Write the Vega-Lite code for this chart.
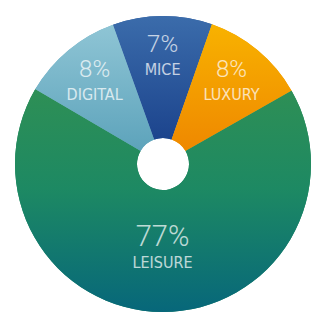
{
  "$schema": "https://vega.github.io/schema/vega-lite/v6.json",
  "width": 300,
  "height": 302,
  "padding": {"left": 13, "top": 13, "right": 0, "bottom": 0},
  "autosize": "none",
  "background": "white",
  "view": {"stroke": null},
  "data": {"values": [
    {"cat": "MICE", "label": "MICE", "pct": "7%", "v": 39},
    {"cat": "LUXURY", "label": "LUXURY", "pct": "8%", "v": 41},
    {"cat": "LEISURE", "label": "LEISURE", "pct": "77%", "v": 240},
    {"cat": "DIGITAL", "label": "DIGITAL", "pct": "8%", "v": 40}
  ]},
  "encoding": {
    "theta": {"field": "v", "type": "quantitative", "stack": true, "scale": {"range": [-0.344, 5.939]}},
    "order": {"field": "cat", "sort": "descending"}
  },
  "layer": [
    {
      "data": {"values": [{"k": 1}]},
      "mark": {"type": "point", "shape": "circle", "filled": true, "color": "#bdbdbd", "opacity": 0.5, "size": 74500, "xOffset": -1, "yOffset": 1},
      "encoding": {"theta": null, "order": null}
    },
    {
      "data": {"values": [{"k": 1}]},
      "mark": {"type": "point", "shape": "circle", "filled": true, "color": "white", "opacity": 1, "size": 72000},
      "encoding": {"theta": null, "order": null}
    },
    {
      "mark": {"type": "arc", "radius": 148, "innerRadius": 26},
      "encoding": {
        "color": {"field": "cat", "type": "nominal", "legend": null,
          "scale": {"domain": ["DIGITAL", "LEISURE", "LUXURY", "MICE"], "range": ["#74b3c8", "#1c8763", "#f39d00", "#2c5b9c"]}}
      }
    },
    {
      "mark": {"type": "arc", "radius": 148, "innerRadius": 26,
        "color": {"gradient": "linear", "x1": 0, "y1": 0, "x2": 0, "y2": 1, "stops": [{"offset": 0, "color": "#8fc5d5"}, {"offset": 1, "color": "#5da3bb"}]}},
      "encoding": {"opacity": {"condition": {"test": "datum.cat == 'DIGITAL'", "value": 1}, "value": 0}}
    },
    {
      "mark": {"type": "arc", "radius": 148, "innerRadius": 26,
        "color": {"gradient": "linear", "x1": 0, "y1": 0, "x2": 0, "y2": 1, "stops": [{"offset": 0, "color": "#3b6cab"}, {"offset": 1, "color": "#1c448d"}]}},
      "encoding": {"opacity": {"condition": {"test": "datum.cat == 'MICE'", "value": 1}, "value": 0}}
    },
    {
      "mark": {"type": "arc", "radius": 148, "innerRadius": 26,
        "color": {"gradient": "linear", "x1": 0, "y1": 0, "x2": 0, "y2": 1, "stops": [{"offset": 0, "color": "#f8b200"}, {"offset": 1, "color": "#ef8800"}]}},
      "encoding": {"opacity": {"condition": {"test": "datum.cat == 'LUXURY'", "value": 1}, "value": 0}}
    },
    {
      "mark": {"type": "arc", "radius": 148, "innerRadius": 26,
        "color": {"gradient": "linear", "x1": 0, "y1": 0, "x2": 0, "y2": 1, "stops": [{"offset": 0, "color": "#2e8f55"}, {"offset": 0.45, "color": "#1d8963"}, {"offset": 1, "color": "#07677a"}]}},
      "encoding": {"opacity": {"condition": {"test": "datum.cat == 'LEISURE'", "value": 1}, "value": 0}}
    },
    {
      "mark": {"type": "text", "font": "Roboto", "fontWeight": 300, "color": "white", "opacity": 0.72,
        "radius": {"expr": "datum.cat == 'LEISURE' ? 86 : 107"},
        "fontSize": {"expr": "datum.cat == 'LEISURE' ? 29 : 24"},
        "dy": {"expr": "datum.cat == 'LEISURE' ? -13 : -12"}},
      "encoding": {"text": {"field": "pct"}}
    },
    {
      "mark": {"type": "text", "font": "DejaVu Sans Condensed", "color": "white", "opacity": 0.72,
        "radius": {"expr": "datum.cat == 'LEISURE' ? 86 : 107"},
        "fontSize": 16, "dy": 13},
      "encoding": {"text": {"field": "label"}}
    }
  ]
}
